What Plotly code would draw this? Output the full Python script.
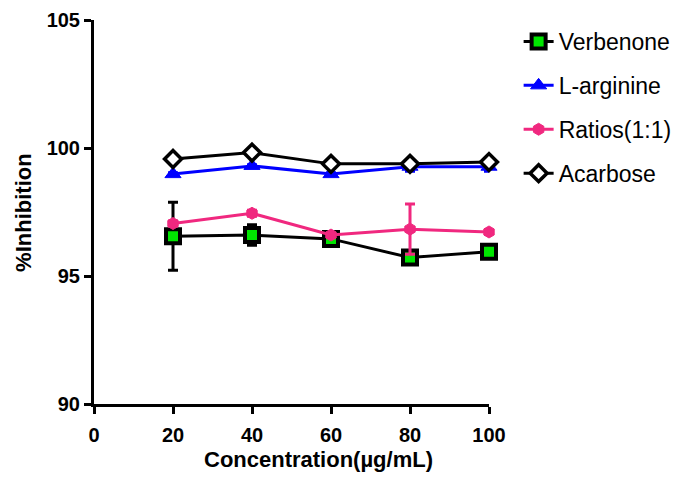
import plotly.graph_objects as go

conc = [20, 40, 60, 80, 100]

verbenone = [96.55, 96.6, 96.45, 95.72, 95.95]
verbenone_err = [1.33, 0.4, 0.15, 0.15, 0.15]

larginine = [98.98, 99.3, 98.98, 99.27, 99.27]
larginine_err = [0.05, 0.05, 0.05, 0.18, 0.18]

ratios = [97.05, 97.45, 96.6, 96.83, 96.72]
ratios_err = [0.1, 0.12, 0.05, 0.98, 0.1]

acarbose = [99.57, 99.82, 99.38, 99.38, 99.45]
acarbose_err = [0.05, 0.05, 0.05, 0.05, 0.05]

FONT = "Liberation Sans, Arial, sans-serif"
PINK = "#F0287F"

fig = go.Figure()

def add(name, y, err, color, symbol, mfill, mline, msize, lw):
    fig.add_trace(go.Scatter(
        x=conc, y=y, name=name, mode="lines+markers", legendgroup=name,
        line=dict(color=color, width=3),
        marker=dict(symbol=symbol, size=msize, color=mfill,
                    line=dict(color=mline, width=lw)),
        error_y=dict(type="data", array=err, visible=True,
                     color=color, thickness=3, width=5),
        cliponaxis=False,
    ))

add("Verbenone", verbenone, verbenone_err, "black", "square", "#00E600", "black", 14, 4)
add("L-arginine", larginine, larginine_err, "#0000FF", "triangle-up", "#0000FF", "#0000FF", 14, 1)
add("Ratios(1:1)", ratios, ratios_err, PINK, "hexagon", PINK, PINK, 12, 1)
add("Acarbose", acarbose, acarbose_err, "black", "diamond", "white", "black", 13, 3.5)

tickfont = dict(family=FONT, size=20, color="black", weight="bold")
titlefont = dict(family=FONT, size=22, color="black", weight="bold")

axis_common = dict(
    showline=True, linecolor="black", linewidth=3,
    ticks="outside", tickwidth=3, ticklen=7, tickcolor="black",
    showgrid=False, zeroline=False,
    tickfont=tickfont, ticklabeloverflow="allow",
)

fig.update_layout(
    width=685, height=497,
    margin=dict(l=86, r=204, t=12, b=101, autoexpand=False),
    paper_bgcolor="white", plot_bgcolor="white",
    font=dict(family=FONT, color="black"),
    showlegend=True,
    legend=dict(x=1.075, y=1.0, xanchor="left", yanchor="top",
                font=dict(family=FONT, size=23, color="black"),
                tracegroupgap=11, itemsizing="trace", itemwidth=30,
                bgcolor="rgba(0,0,0,0)"),
    xaxis=dict(range=[0, 100], tickvals=[0, 20, 40, 60, 80, 100],
               ticklabelstandoff=4,
               **axis_common),
    yaxis=dict(range=[90, 105], tickvals=[90, 95, 100, 105],
               **axis_common),
    annotations=[
        dict(text="Concentration(µg/mL)", font=titlefont,
             xref="paper", yref="paper", x=0.568, y=-0.145,
             xanchor="center", yanchor="middle", showarrow=False),
        dict(text="%Inhibition", font=titlefont, textangle=-90,
             xref="paper", yref="paper", x=-0.18, y=0.5,
             xanchor="center", yanchor="middle", showarrow=False),
    ],
)

fig.write_html("out.html")
